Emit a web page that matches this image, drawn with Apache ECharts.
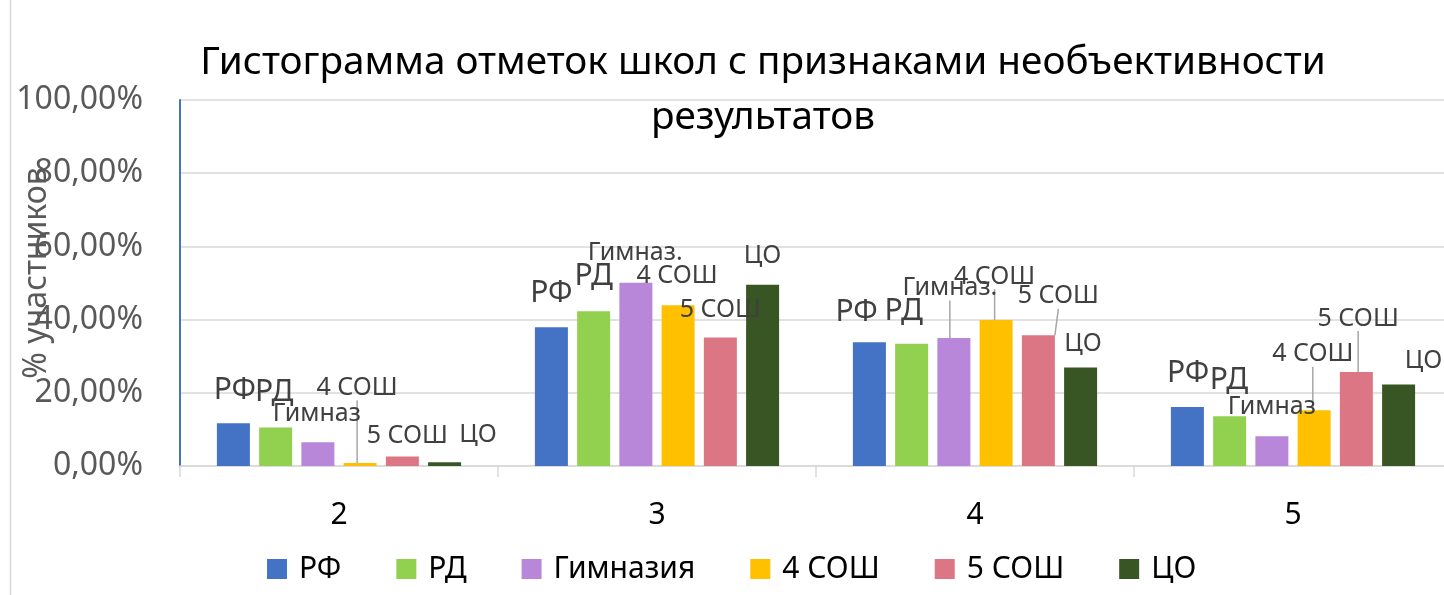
<!DOCTYPE html>
<html>
<head>
<meta charset="utf-8">
<script src="https://cdn.jsdelivr.net/npm/echarts@6/dist/echarts.min.js"></script>
<style>
html,body{margin:0;padding:0;background:#fff;}
#chart{width:1444px;height:595px;}
</style>
</head>
<body>
<div id="chart"></div>
<script>
// ---- data ----
const categories = ['2', '3', '4', '5'];
const seriesNames = ['РФ', 'РД', 'Гимназия', '4 СОШ', '5 СОШ', 'ЦО'];
const rf  = [11.7, 37.9, 33.8, 16.1];
const rd  = [10.5, 42.3, 33.4, 13.6];
const gym = [6.5, 50.1, 35.0, 8.1];
const s4  = [0.8, 43.9, 39.9, 15.2];
const s5  = [2.6, 35.1, 35.7, 25.7];
const co  = [1.0, 49.5, 26.9, 22.3];
const yTicks = [0, 20, 40, 60, 80, 100];
// data label texts
const lblRf  = ['РФ', 'РФ', 'РФ', 'РФ'];
const lblRd  = ['РД', 'РД', 'РД', 'РД'];
const lblGym = ['Гимназ', 'Гимназ.', 'Гимназ.', 'Гимназ'];
const lblS4  = ['4 СОШ', '4 СОШ', '4 СОШ', '4 СОШ'];
const lblS5  = ['5 СОШ', '5 СОШ', '5 СОШ', '5 СОШ'];
const lblCo  = ['ЦО', 'ЦО', 'ЦО', 'ЦО'];

// ---- styling / layout ----
const colors = ['#4472C4', '#92D050', '#B987D9', '#FFC000', '#DC7684', '#375623'];
const labelSizes = [30, 30, 25, 25, 25, 25];
// label offsets from the bar top centre (px)
const labelShift = [
  [[1.5, -33], [0, -33.5], [-12.7, -30.3], [0.7, -33.4]],
  [[-1.5, -35], [0, -35], [-8, -32], [-0.7, -36]],
  [[-1, -28], [-0.7, -29.7], [-4, -50], [0, -29.3]],
  [[-3, -75], [-1, -29], [-1.5, -43.3], [-1.3, -56]],
  [[5, -21], [0, -28], [20, -39], [1.8, -53.4]],
  [[33.5, -27], [0, -29], [2.5, -23.3], [25, -24]]
];
const withLine = [
  [false, false, false, false],
  [false, false, false, false],
  [false, false, true, false],
  [true, false, true, true],
  [false, false, true, true],
  [false, false, false, false]
];

const values = [rf, rd, gym, s4, s5, co];
const labelTexts = [lblRf, lblRd, lblGym, lblS4, lblS5, lblCo];
const FONT = 'Noto Sans';

const fmtPct = v => v.toFixed(2).replace('.', ',') + '%';

const series = values.map((vals, si) => ({
  name: seriesNames[si],
  type: 'bar',
  barWidth: 33,
  barGap: '28%',
  itemStyle: { color: colors[si] },
  data: vals.map((v, di) => ({
    value: v,
    labelLine: { show: withLine[si][di] }
  })),
  label: {
    show: true,
    position: 'top',
    distance: 0,
    verticalAlign: 'middle',
    align: 'center',
    fontFamily: FONT,
    fontSize: labelSizes[si],
    color: '#404040',
    formatter: p => labelTexts[si][p.dataIndex]
  },
  labelLine: {
    lineStyle: { color: '#a6a6a6', width: 1.5 }
  },
  labelLayout: p => ({
    dx: labelShift[si][p.dataIndex][0],
    dy: labelShift[si][p.dataIndex][1]
  }),
  emphasis: { disabled: true }
}));

const chart = echarts.init(document.getElementById('chart'), null, { renderer: 'canvas' });
chart.setOption({
  animation: false,
  backgroundColor: '#ffffff',
  title: {
    text: 'Гистограмма отметок школ с признаками необъективности\nрезультатов',
    left: 758,
    top: 30,
    textAlign: 'center',
    textStyle: {
      fontFamily: FONT,
      fontSize: 38.7,
      fontWeight: 'normal',
      color: '#000000',
      lineHeight: 55
    }
  },
  legend: {
    data: seriesNames,
    left: 267,
    top: 554,
    padding: 0,
    itemWidth: 20,
    itemHeight: 20,
    itemGap: 55,
    icon: 'rect',
    textStyle: {
      fontFamily: FONT,
      fontSize: 30,
      color: '#000000',
      padding: [0, 0, 0, 7]
    }
  },
  grid: {
    left: 180,
    right: -8,
    top: 100,
    bottom: 129,
    containLabel: false,
    outerBoundsMode: 'none'
  },
  xAxis: {
    type: 'category',
    data: categories,
    axisLine: { show: true, lineStyle: { color: '#d9d9d9', width: 1.5 } },
    axisTick: { show: true, length: 11, lineStyle: { color: '#d9d9d9', width: 1.5 } },
    axisLabel: {
      fontFamily: FONT,
      fontSize: 30,
      color: '#000000',
      margin: 34
    }
  },
  yAxis: {
    type: 'value',
    min: yTicks[0],
    max: yTicks[yTicks.length - 1],
    interval: 20,
    name: '% участников',
    nameLocation: 'middle',
    nameGap: 127,
    nameMoveOverlap: false,
    nameTextStyle: {
      fontFamily: FONT,
      fontSize: 32,
      color: '#595959',
      padding: [0, 0, 0, 20]
    },
    axisLine: { show: true, lineStyle: { color: '#4472C4', width: 2 } },
    axisTick: { show: false },
    splitLine: { show: true, lineStyle: { color: '#d9d9d9', width: 1.5 } },
    axisLabel: {
      fontFamily: FONT,
      fontSize: 32,
      color: '#595959',
      margin: 37,
      formatter: fmtPct
    }
  },
  graphic: [{
    type: 'line',
    shape: { x1: 10.5, y1: 0, x2: 10.5, y2: 595 },
    style: { stroke: '#d9d9d9', lineWidth: 1.5 },
    silent: true
  }],
  series: series
});
</script>
</body>
</html>
